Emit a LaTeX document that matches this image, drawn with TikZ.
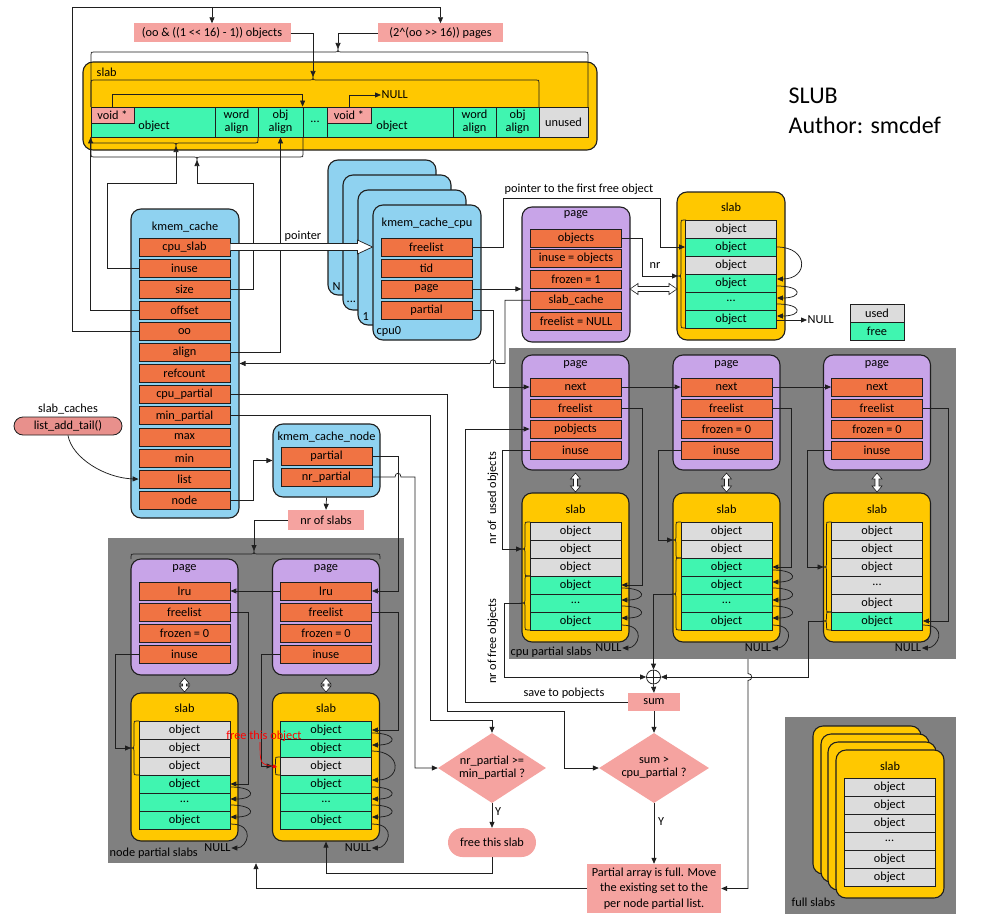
\documentclass[tikz,border=0pt]{standalone}
\usepackage{fontspec}
\setmainfont{Carlito}
\usetikzlibrary{arrows.meta,calc,shapes.geometric}
\definecolor{orF}{HTML}{F07343}
\definecolor{blC}{HTML}{8FD2F0}
\definecolor{puC}{HTML}{C8A4E8}
\definecolor{yeC}{HTML}{FFC800}
\definecolor{grC}{HTML}{40F5B0}
\definecolor{guC}{HTML}{DCDCDC}
\definecolor{pkC}{HTML}{F5A3A0}
\definecolor{dkC}{HTML}{808080}
\definecolor{lnC}{HTML}{1F1F1F}
\definecolor{pillC}{HTML}{E8908C}
\newcommand{\mydots}{...}
\newcommand{\hbrU}[5]{\draw[ln] (#1,#4) -- (#1,#3+3) .. controls (#1,#3) .. (#1+3,#3) -- (#5-3,#3) .. controls (#5,#3) .. (#5,#3-3) .. controls (#5,#3) .. (#5+3,#3) -- (#2-3,#3) .. controls (#2,#3) .. (#2,#3+3) -- (#2,#4);}
\newcommand{\hbrD}[5]{\draw[ln] (#1,#4) -- (#1,#3-3) .. controls (#1,#3) .. (#1+3,#3) -- (#5-3,#3) .. controls (#5,#3) .. (#5,#3+3) .. controls (#5,#3) .. (#5+3,#3) -- (#2-3,#3) .. controls (#2,#3) .. (#2,#3-3) -- (#2,#4);}
\newcommand{\vbrL}[5]{\draw[ln] (#1,#3) -- (#2+3,#3) .. controls (#2,#3) .. (#2,#3+3) -- (#2,#5-3) .. controls (#2,#5) .. (#2-3,#5) .. controls (#2,#5) .. (#2,#5+3) -- (#2,#4-3) .. controls (#2,#4) .. (#2+3,#4) -- (#1,#4);}
\newcommand{\vdar}[3]{\filldraw[ln, line width=0.6pt, fill=white] (#1,#2) -- (#1+5,#2+6) -- (#1+2,#2+6) -- (#1+2,#3-6) -- (#1+5,#3-6) -- (#1,#3) -- (#1-5,#3-6) -- (#1-2,#3-6) -- (#1-2,#2+6) -- (#1-5,#2+6) -- cycle;}
\newcommand{\hdar}[3]{\filldraw[ln, line width=0.6pt, fill=white] (#1,#3) -- (#1+8,#3-5.5) -- (#1+8,#3-2.5) -- (#2-8,#3-2.5) -- (#2-8,#3-5.5) -- (#2,#3) -- (#2-8,#3+5.5) -- (#2-8,#3+2.5) -- (#1+8,#3+2.5) -- (#1+8,#3+5.5) -- cycle;}
\newcommand{\oloop}[3]{\draw[arr] ($(#1.east)+(0,3)$) .. controls +(#3,0) and +(#3,0) .. ($(#2.east)+(0,-3)$);}
\begin{document}
\begin{tikzpicture}[x=1pt,y=-1pt,
  font=\fontsize{12.3}{13}\selectfont,
  ln/.style={draw=lnC, line width=0.75pt},
  arr/.style={ln, -{Triangle[length=6pt,width=5pt]}},
  fld/.style={draw=lnC, line width=0.8pt, fill=orF, minimum width=91, minimum height=18, inner sep=0pt},
  obj/.style={draw=lnC, line width=0.8pt, minimum width=91, minimum height=18, inner sep=0pt},
  cont/.style={draw=lnC, line width=1.1pt, rounded corners=10, inner sep=0pt},
  lbl/.style={inner sep=0.5pt},
  pk/.style={fill=pkC, inner sep=0pt},
  rgn/.style={fill=dkC, inner sep=0pt},
  two/.style={align=center, font=\fontsize{12.3}{12.5}\selectfont}
]
\fill[white] (0,0) rectangle (987,923);
\useasboundingbox (0,0) rectangle (987,923);

% ---------- regions ----------
\node[rgn, minimum width=447, minimum height=311] (cpr) at (732.5,503.5) {};
\node[lbl, anchor=west] (cprt) at (510,652) {cpu partial slabs};
\node[rgn, minimum width=296, minimum height=325] (npr) at (256,700.5) {};
\node[lbl, anchor=west] (nprt) at (109,853) {node partial slabs};
\node[rgn, minimum width=171, minimum height=197] (fsr) at (870.5,815.5) {};
\node[lbl, anchor=west] (fsrt) at (791,902) {full slabs};

% ---------- top slab ----------
\node[cont, fill=yeC, minimum width=514, minimum height=88] (slT) at (340,106) {};
\node[lbl, anchor=west] (slTt) at (96,72) {slab};
\node[obj, fill=grC, minimum width=124, minimum height=30] (objA) at (153,122) {};
\node[obj, fill=pkC, minimum width=43, minimum height=16] (voidA) at (112.5,115) {void *};
\node[lbl] (objAt) at (154,126) {object};
\node[obj, fill=grC, minimum width=43, minimum height=30, two] (wA) at (236.5,122) {word\\align};
\node[obj, fill=grC, minimum width=45, minimum height=30, two] (oA) at (280.5,122) {obj\\align};
\node[obj, fill=grC, minimum width=24, minimum height=30] (dots) at (315,122) {\mydots};
\node[obj, fill=grC, minimum width=126, minimum height=30] (objB) at (390,122) {};
\node[obj, fill=pkC, minimum width=44, minimum height=16] (voidB) at (349,115) {void *};
\node[lbl] (objBt) at (392,126) {object};
\node[obj, fill=grC, minimum width=43, minimum height=30, two] (wB) at (474.5,122) {word\\align};
\node[obj, fill=grC, minimum width=43, minimum height=30, two] (oB) at (517.5,122) {obj\\align};
\node[obj, fill=guC, minimum width=49, minimum height=30] (unu) at (563.5,122) {unused};
\node[lbl, anchor=west] (nullT) at (381,95) {NULL};
\node[pk, minimum width=157, minimum height=19] (lblO) at (212,33) {(oo \& ((1 <\kern0pt< 16) - 1)) objects};
\node[pk, minimum width=125, minimum height=19] (lblP) at (440.5,33) {(2\textasciicircum(oo >\kern0pt> 16)) pages};

% ---------- kmem_cache ----------
\node[cont, fill=blC, minimum width=108, minimum height=309] (kc) at (185,363.5) {};
\node[lbl] (kct) at (185,227) {kmem\_cache};
\foreach \n/\tx [count=\i from 0] in {cpuslab/cpu\_slab, inuse/inuse, size/size, offset/offset, oo/oo, align/align, refcount/refcount, cpupartial/cpu\_partial, minpartial/min\_partial, max/max, min/min, list/list, node/node}
  \node[fld] (kc-\n) at (184.5,247+21.1*\i) {\tx};

\node[lbl] (scl) at (68,409) {slab\_caches};
\node[draw=lnC, line width=0.8pt, fill=pillC, rounded corners=9, minimum width=108, minimum height=18, inner sep=0pt] (lat) at (68,426) {list\_add\_tail()};

% ---------- kmem_cache_cpu stack ----------
\node[cont, fill=blC, minimum width=108, minimum height=135] (cpuN) at (382,227.5) {};
\node[lbl, anchor=west] (cpuNt) at (332,287) {N};
\node[cont, fill=blC, minimum width=108, minimum height=135] (cpuD) at (397,242.5) {};
\node[lbl, anchor=west] (cpuDt) at (346,302) {\mydots};
\node[cont, fill=blC, minimum width=108, minimum height=135] (cpu1) at (412,257.5) {};
\node[lbl, anchor=west] (cpu1t) at (362,317) {1};
\node[cont, fill=blC, minimum width=108, minimum height=135] (cpu0) at (427,272.5) {};
\node[lbl] (cpu0t) at (427,223) {kmem\_cache\_cpu};
\node[lbl, anchor=west] (cpu0n) at (376,331) {cpu0};
\foreach \n [count=\i from 0] in {freelist, tid, page, partial}
  \node[fld] (cc-\n) at (426.5,247+21*\i) {\n};
\node[lbl] (ptrt) at (303,236) {pointer};

% ---------- top page & slab ----------
\node[cont, fill=puC, minimum width=108, minimum height=135] (pg0) at (576,274.5) {};
\node[lbl] (pg0t) at (576,215) {page};
\foreach \n/\tx [count=\i from 0] in {objects/objects, inuse/inuse = objects, frozen/frozen = 1, slabcache/slab\_cache, freelist/freelist = NULL}
  \node[fld] (pg0-\n) at (576,238+20.75*\i) {\tx};
\node[cont, fill=yeC, minimum width=108, minimum height=148] (sl0) at (731,266) {};
\node[lbl] (sl0t) at (731,207) {slab};
\foreach \c/\tx [count=\i] in {guC/object, grC/object, guC/object, grC/object, grC/\mydots, grC/object}
  \node[obj, fill=\c] (s0-\i) at (731,211+18*\i) {\tx};
\node[lbl, anchor=west] (null0) at (807,320) {NULL};
\node[lbl] (nrt) at (655,266) {nr};
\node[lbl, anchor=west] (pfft) at (504,189) {pointer to the first free object};
\node[obj, fill=guC, minimum width=54] (lgU) at (877,313) {used};
\node[obj, fill=grC, minimum width=54] (lgF) at (877,331) {free};
\node[lbl, anchor=west, font=\fontsize{24}{26}\selectfont] (t1) at (788,96) {SLUB};
\node[lbl, anchor=west, font=\fontsize{24}{26}\selectfont] (t2) at (788,125) {Author: smcdef};

% ---------- cpu partial slabs ----------
\foreach \k/\xc in {1/575.5, 2/726.5, 3/877} {
  \node[cont, fill=puC, minimum width=107, minimum height=115] (p\k) at (\xc,412.5) {};
  \node[lbl] (p\k-t) at (\xc,365) {page};
  \node[cont, fill=yeC, minimum width=107, minimum height=149] (s\k) at (\xc,567.5) {};
  \node[lbl] (s\k-t) at (\xc,509) {slab};
  \vdar{\xc}{473}{492}
}
\foreach \n/\tx [count=\i from 0] in {next/next, freelist/freelist, pobjects/pobjects, inuse/inuse}
  \node[fld] (p1-\n) at (575.5,387+21*\i) {\tx};
\foreach \k/\xc in {2/726.5, 3/877}
  \foreach \n/\tx [count=\i from 0] in {next/next, freelist/freelist, frozen/frozen = 0, inuse/inuse}
    \node[fld] (p\k-\n) at (\xc,387+21*\i) {\tx};
\foreach \c/\tx [count=\i] in {guC/object, guC/object, guC/object, grC/object, grC/\mydots, grC/object}
  \node[obj, fill=\c] (s1-\i) at (575.5,513+18*\i) {\tx};
\foreach \c/\tx [count=\i] in {guC/object, guC/object, grC/object, grC/object, grC/\mydots, grC/object}
  \node[obj, fill=\c] (s2-\i) at (726.5,513+18*\i) {\tx};
\foreach \c/\tx [count=\i] in {guC/object, guC/object, guC/object, guC/\mydots, guC/object, grC/object}
  \node[obj, fill=\c] (s3-\i) at (877,513+18*\i) {\tx};
\node[lbl] (n1) at (608.5,648) {NULL};
\node[lbl] (n2) at (758,648) {NULL};
\node[lbl] (n3) at (908,648) {NULL};
\node[lbl, rotate=90] (nuo) at (493,498) {nr of\ \ used objects};
\node[lbl, rotate=90] (nfo) at (493,641) {nr of free objects};

% ---------- kmem_cache_node & node partial ----------
\node[cont, fill=blC, minimum width=107, minimum height=73] (kcn) at (326.5,460.5) {};
\node[lbl] (kcnt) at (326.5,437) {kmem\_cache\_node};
\node[fld] (kcn-partial) at (326.5,456) {partial};
\node[fld] (kcn-nrpartial) at (326.5,477) {nr\_partial};
\node[pk, minimum width=76, minimum height=20] (nos) at (326,520) {nr of slabs};
\foreach \k/\xc in {A/184.5, B/326} {
  \node[cont, fill=puC, minimum width=107, minimum height=116] (p\k) at (\xc,617) {};
  \node[lbl] (p\k-t) at (\xc,569) {page};
  \node[cont, fill=yeC, minimum width=107, minimum height=148] (s\k) at (\xc,767) {};
  \node[lbl] (s\k-t) at (\xc,708) {slab};
  \vdar{\xc}{678}{692}
}
\foreach \k/\xc in {A/184.5, B/326}
  \foreach \n/\tx [count=\i from 0] in {lru/lru, freelist/freelist, frozen/frozen = 0, inuse/inuse}
    \node[fld] (p\k-\n) at (\xc,591+21*\i) {\tx};
\foreach \c/\tx [count=\i] in {guC/object, guC/object, guC/object, grC/object, grC/\mydots, grC/object}
  \node[obj, fill=\c] (sA-\i) at (184.5,712+18*\i) {\tx};
\foreach \c/\tx [count=\i] in {grC/object, grC/object, guC/object, grC/object, grC/\mydots, grC/object}
  \node[obj, fill=\c] (sB-\i) at (326,712+18*\i) {\tx};
\node[lbl] (nA) at (217.5,848) {NULL};
\node[lbl] (nB) at (358,848) {NULL};

% ---------- full slabs ----------
\foreach \j/\xc/\yc in {a/867/800, b/875/808, c/882/816, d/890/824}
  \node[cont, fill=yeC, minimum width=108, minimum height=148] (fs\j) at (\xc,\yc) {};
\node[lbl] (fsdt) at (890,766) {slab};
\foreach \tx [count=\i] in {object, object, object, \mydots, object, object}
  \node[obj, fill=guC] (f-\i) at (889.5,769+18*\i) {\tx};

% ---------- flowchart ----------
\node[circle, draw=lnC, line width=0.75pt, minimum size=14, inner sep=0pt] (sumc) at (653.5,677) {};
\draw[ln] (sumc.north) -- (sumc.south) (sumc.west) -- (sumc.east);
\node[pk, minimum width=52, minimum height=18] (sum) at (654,702) {sum};
\node[lbl] (savet) at (564,693) {save to pobjects};
\node[diamond, fill=pkC, aspect=1.6, minimum width=110, minimum height=70, inner sep=0pt, align=center] (d2) at (654,768) {sum >\\cpu\_partial ?};
\node[diamond, fill=pkC, aspect=1.6, minimum width=108, minimum height=70, inner sep=0pt, align=center] (d1) at (492,768) {nr\_partial >=\\min\_partial ?};
\node[lbl] (y1) at (498,812) {Y};
\node[lbl] (y2) at (661,822) {Y};
\node[pk, rounded corners=14.5, minimum width=88, minimum height=29] (fts) at (492,842.5) {free this slab};
\node[pk, minimum width=134, minimum height=49, align=center, font=\fontsize{12.3}{15.5}\selectfont] (pa) at (654,888.5) {Partial array is full. Move\\the existing set to the\\per node partial list.};

% ---------- braces & double arrows ----------
\hbrU{91}{588}{52}{107}{338}
\hbrU{91}{539}{80}{107}{313}
\hbrD{91}{258}{143}{137}{176}
\hbrD{91}{303}{157}{137}{197}
\coordinate (brP) at (338,49);
\coordinate (brO) at (313,77);
\coordinate (brI) at (176,146);
\coordinate (brS) at (197,160);
\vbrL{686}{681}{220}{328}{276}
\coordinate (brS0) at (678,276);
\hdar{630}{677}{289}
\vbrL{530}{525}{522}{576}{549}
\vbrL{530}{525}{576}{630}{603}
\vbrL{681}{676}{522}{558}{540}
\vbrL{681}{676}{558}{630}{594}
\vbrL{831.5}{826.5}{522}{612}{567}
\vbrL{831.5}{826.5}{612}{630}{621}
\coordinate (s1u) at (522,549);
\coordinate (s1f) at (522,603);
\coordinate (s2u) at (673,540);
\coordinate (s2f) at (673,594);
\coordinate (s3u) at (823.5,567);
\coordinate (s3f) at (823.5,621);
\hbrU{131}{380}{554}{559}{254}
\coordinate (nprT) at (254,551);
\vbrL{139}{134}{721}{775}{748}
\vbrL{280.5}{275.5}{757}{775}{766}
\coordinate (sAu) at (131,748);
\coordinate (sBu) at (272.5,766);

% ---------- connectors: top ----------
\coordinate (topL) at (72,7);
\draw[arr] (kc-oo.west) -| (topL) -| (lblP.north);
\draw[arr] (lblO.north |- topL) -- (lblO.north);
\draw[arr] (lblO.east) -| (brO);
\draw[arr] (lblP.west) -| (brP);
\draw[arr] (kc-inuse.west) -| (107,183) -| (brI);
\draw[arr] (kc-size.east) -| (253,183) -| (brS);
\draw[arr] (kc-offset.west) -| (objA.south west);
\draw[arr] (kc-align.east) -| (oA.south);
\draw[arr] (voidA.north) -- ++(0,-12) -| (dots.north west);
\draw[arr] (voidB.north) |- (nullT.west);
\draw[arr] (lat.south) .. controls (72,458) and (105,478) .. (kc-list.west);

% pointer arrow
\coordinate (ptS) at (kc-cpuslab.east);
\coordinate (ptT) at (cpu0.west |- kc-cpuslab.east);
\filldraw[ln, line width=0.7pt, fill=white] ($(ptS)+(0,-3.5)$) -- ($(ptT)+(-15,-3.5)$) -- ($(ptT)+(-15,-7)$) -- (ptT) -- ($(ptT)+(-15,7)$) -- ($(ptT)+(-15,3.5)$) -- ($(ptS)+(0,3.5)$);

% kmem_cache_cpu connectors
\draw[arr] (cc-freelist.east) -| (503,198) -| (660,247) -- (s0-2.west);
\draw[arr] (cc-page.east) -- (pg0.west |- cc-page.east);
\draw[arr] (cc-partial.east) -| (493,387) -- (p1-next.west);
\draw[arr] (pg0-slabcache.west) -| (505,363.5) -- (496,363.5) .. controls (496,358.5) and (490,358.5) .. (490,363.5) -- (kc.east);
\draw[arr] (pg0-objects.east) -| (642,276) -- (brS0);
\draw[arr] (s0-2.east) .. controls +(32,0) and +(32,0) .. ($(s0-4.east)+(0,-4)$);
\oloop{s0-4}{s0-5}{26}
\oloop{s0-5}{s0-6}{26}
\draw[arr] ($(s0-6.east)+(0,1)$) -- (null0.west);

% cpu partial connectors
\draw[arr] (p1-next.east) -- (p2-next.west);
\draw[arr] (p2-next.east) -- (p3-next.west);
\draw[arr] (p1-freelist.east) -- ++(21,0) |- (s1-4.east);
\draw[arr] (p2-freelist.east) -- ++(19,0) |- (s2-3.east);
\draw[arr] (p3-freelist.east) -- ++(25,0) |- (s3-6.east);
\draw[arr] (p1-inuse.west) -- ++(-27,0) |- (s1u);
\draw[arr] (p2-inuse.west) -- ++(-22,0) |- (s2u);
\draw[arr] (p3-inuse.west) -- ++(-23.5,0) |- (s3u);
\oloop{s1-4}{s1-5}{26}
\oloop{s1-5}{s1-6}{26}
\draw[arr] ($(s1-6.east)+(0,4)$) .. controls +(26,0) and +(16,0) .. (n1.east);
\oloop{s2-3}{s2-4}{26}
\oloop{s2-4}{s2-5}{26}
\oloop{s2-5}{s2-6}{26}
\draw[arr] ($(s2-6.east)+(0,4)$) .. controls +(26,0) and +(16,0) .. (n2.east);
\draw[arr] ($(s3-6.east)+(0,4)$) .. controls +(26,0) and +(16,0) .. (n3.east);
\draw[arr] (s1f) -| (504,677) -- (sumc.west);
\draw[arr] (s2f) -| (sumc.north);
\draw[arr] (s3f) -| (808,677) -- (sumc.east);
\draw[arr] (sumc.south) -- (sum.north);
\draw[arr] (sum.west) -| (465,429) -- (p1-pobjects.west);
\draw[arr] (sum.south) -- (d2.north);
\draw[arr] (d2.south) -- (pa.north);
\coordinate (cprB) at (748,659);
\draw[arr] (cprB) -- (748,673.5) .. controls (753,673.5) and (753,680.5) .. (748,680.5) |- (pa.east);
\draw[arr] (kc-cpupartial.east) -| (447,711) -| (564,768) -- (d2.west);
\draw[arr] (kc-minpartial.east) -| (430,720) -| (d1.north);
\draw[arr] (kcn-nrpartial.east) -- (395,477) .. controls (395,472) and (401,472) .. (401,477) -| (415,768) -- (d1.west);
\draw[arr] (d1.south) -- (fts.north);
\draw[arr] (fts.south) -- ++(0,16) -| (sB.south);
\draw[arr] (pa.west) -| (npr.south);

% node partial connectors
\draw[arr] (kc-node.east) -- ++(23,0) |- (kcn.west);
\draw[arr] (kcn.south) -- (nos.north);
\draw[arr] (nos.west) -| (nprT);
\draw[arr] (kcn-partial.east) -- ++(26,0) |- (pB-lru.east);
\draw[arr] (pB-lru.west) -- (pA-lru.east);
\draw[arr] (pB-freelist.east) -- ++(26,0) |- (sB-1.east);
\draw[arr] (pA-freelist.east) -- ++(18,0) |- (sA-4.east);
\draw[arr] (pA-inuse.west) -- ++(-23,0) |- (sAu);
\draw[arr] (pB-inuse.west) -- ++(-19,0) |- (sBu);
\oloop{sA-4}{sA-5}{26}
\oloop{sA-5}{sA-6}{26}
\draw[arr] ($(sA-6.east)+(0,4)$) .. controls +(26,0) and +(16,0) .. (nA.east);
\oloop{sB-1}{sB-2}{26}
\draw[arr] ($(sB-2.east)+(0,3)$) .. controls +(30,0) and +(30,0) .. ($(sB-4.east)+(0,-4)$);
\oloop{sB-4}{sB-5}{26}
\oloop{sB-5}{sB-6}{26}
\draw[arr] ($(sB-6.east)+(0,4)$) .. controls +(26,0) and +(16,0) .. (nB.east);
\node[lbl, text=red] (fto) at (264,736) {free this object};
\coordinate (ftoE) at (277,767);
\draw[red, line width=0.6pt, -{Triangle[length=4pt,width=4pt]}] ($(fto.south)+(-4,0)$) .. controls (260,764) .. (ftoE);
\end{tikzpicture}
\end{document}
